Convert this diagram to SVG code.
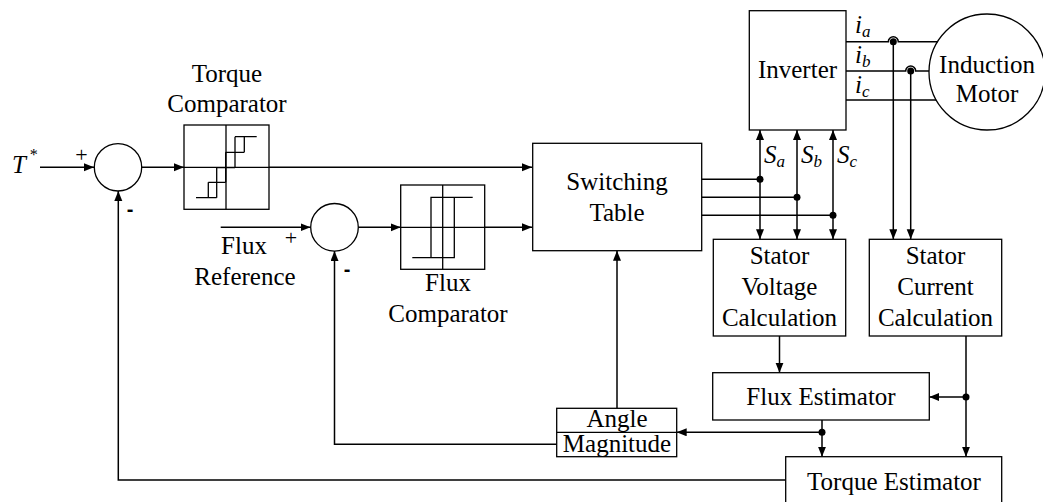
<svg xmlns="http://www.w3.org/2000/svg" width="1043" height="502" viewBox="0 0 1043 502">
<style>
.box{fill:#fff;stroke:#000;stroke-width:1.3}
.ln{fill:none;stroke:#000;stroke-width:1.5}
.thin{fill:none;stroke:#000;stroke-width:1.3}
.t{font-family:"Liberation Serif","Times New Roman",serif;font-size:25px;fill:#000;text-anchor:middle}
.it{font-family:"Liberation Serif","Times New Roman",serif;font-style:italic;font-size:25px;fill:#000}
.sub{font-size:17px}
.sg{font-family:"Liberation Serif","Times New Roman",serif;font-size:22px;fill:#000;text-anchor:middle}
.mn{font-family:"Liberation Sans",Arial,sans-serif;font-weight:bold;font-size:20px;fill:#000;text-anchor:middle}
.dot{fill:#000}
</style>
<defs>
<marker id="ar" markerUnits="userSpaceOnUse" markerWidth="11" markerHeight="9" refX="10" refY="4" orient="auto-start-reverse">
<path d="M0,0 L10,4 L0,8 z" fill="#000"/>
</marker>
</defs>
<rect width="1043" height="502" fill="#fff"/>

<g id="connectors">
<path class="ln" d="M40,167.3 H94" marker-end="url(#ar)"/>
<path class="ln" d="M141.7,167.3 H184" marker-end="url(#ar)"/>
<path class="ln" d="M269,167.3 H532" marker-end="url(#ar)"/>
<path class="ln" d="M220.7,227.3 H310.5" marker-end="url(#ar)"/>
<path class="ln" d="M358.3,227.3 H400.7" marker-end="url(#ar)"/>
<path class="ln" d="M484.7,227.3 H532" marker-end="url(#ar)"/>
<path class="ln" d="M701.7,179.3 H760"/>
<path class="ln" d="M701.7,197.3 H797"/>
<path class="ln" d="M701.7,215.3 H833"/>
<path class="ln" d="M760,130 V239.3" marker-start="url(#ar)" marker-end="url(#ar)"/>
<path class="ln" d="M797,130 V239.3" marker-start="url(#ar)" marker-end="url(#ar)"/>
<path class="ln" d="M833,130 V239.3" marker-start="url(#ar)" marker-end="url(#ar)"/>
<circle class="dot" cx="760" cy="179.3" r="3.5"/>
<circle class="dot" cx="797" cy="197.3" r="3.5"/>
<circle class="dot" cx="833" cy="215.3" r="3.5"/>
<path class="ln" d="M846,41.7 H888.3 A5,5 0 0,1 898.3,41.7 H937.5"/>
<path class="ln" d="M846,71 H905.7 A5,5 0 0,1 915.7,71 H929"/>
<path class="ln" d="M846,100 H936.2"/>
<path class="ln" d="M893.3,41.7 V239.3" marker-end="url(#ar)"/>
<path class="ln" d="M910.7,71 V239.3" marker-end="url(#ar)"/>
<circle class="dot" cx="893.3" cy="41.7" r="3.5"/>
<circle class="dot" cx="910.7" cy="71" r="3.5"/>
<path class="ln" d="M779.5,336 V372.7" marker-end="url(#ar)"/>
<path class="ln" d="M966,336 V456.7" marker-end="url(#ar)"/>
<path class="ln" d="M966,397 H929.3" marker-end="url(#ar)"/>
<circle class="dot" cx="966" cy="397" r="3.5"/>
<path class="ln" d="M822,420 V456.7" marker-end="url(#ar)"/>
<path class="ln" d="M822,432.3 H676.7" marker-end="url(#ar)"/>
<circle class="dot" cx="822" cy="432.3" r="3.5"/>
<path class="ln" d="M617,408.3 V250.7" marker-end="url(#ar)"/>
<path class="ln" d="M556.7,444.3 H334.5 V251" marker-end="url(#ar)"/>
<path class="ln" d="M785.7,480 H118.3 V191" marker-end="url(#ar)"/>
</g>

<g id="input-T">
<text class="it" x="12" y="173">T</text>
<text class="it" x="29" y="160" style="font-size:16px">*</text>
<text class="sg" x="81.5" y="162">+</text>
</g>

<g id="sum-torque">
<circle class="thin" cx="118" cy="167.3" r="23.7" fill="#fff"/>
<text class="mn" x="130" y="216">-</text>
</g>

<g id="torque-comparator">
<rect class="box" x="184" y="125" width="85" height="84.3"/>
<path class="thin" d="M226,125 V209.3 M184,167.3 H269"/>
<path class="thin" d="M196,197.7 H216.7 M208.3,182.3 V197.7 M216.7,167.7 V197.7 M208.3,182.3 H225.7 M225.7,152.3 V182.3 M216.7,167.7 H235 M235,136.7 V167.7 M225.7,152.3 H244.3 M244.3,136.7 V152.3 M235,136.7 H256.7"/>
<text class="t" x="227" y="82">Torque</text>
<text class="t" x="227" y="112">Comparator</text>
</g>

<g id="flux-reference">
<text class="t" x="244" y="254">Flux</text>
<text class="t" x="245" y="285">Reference</text>
<text class="sg" x="291" y="245">+</text>
</g>

<g id="sum-flux">
<circle class="thin" cx="334.5" cy="227.3" r="23.8" fill="#fff"/>
<text class="mn" x="347" y="276">-</text>
</g>

<g id="flux-comparator">
<rect class="box" x="400.7" y="185" width="84" height="84.3"/>
<path class="thin" d="M442.7,185 V269.3 M400.7,227.3 H484.7"/>
<path class="thin" d="M472.7,197.3 H431 V257.7 M412.3,257.7 H454.3 V197.3"/>
<text class="t" x="448" y="291">Flux</text>
<text class="t" x="448" y="322">Comparator</text>
</g>

<g id="switching-table">
<rect class="box" x="532.7" y="143.3" width="169" height="107.4"/>
<text class="t" x="617" y="190">Switching</text>
<text class="t" x="617" y="221">Table</text>
</g>

<g id="inverter">
<rect class="box" x="749.3" y="10.7" width="96.7" height="119.3"/>
<text class="t" x="797.5" y="78">Inverter</text>
</g>

<g id="current-labels">
<text class="it" x="855" y="33">i<tspan class="sub" dy="4">a</tspan></text>
<text class="it" x="855" y="63">i<tspan class="sub" dy="4">b</tspan></text>
<text class="it" x="855" y="93">i<tspan class="sub" dy="4">c</tspan></text>
</g>

<g id="switch-labels">
<text class="it" x="764" y="163">S<tspan class="sub" dy="4">a</tspan></text>
<text class="it" x="801" y="163">S<tspan class="sub" dy="4">b</tspan></text>
<text class="it" x="837" y="163">S<tspan class="sub" dy="4">c</tspan></text>
</g>

<g id="induction-motor">
<circle class="thin" cx="987" cy="72" r="58" fill="#fff"/>
<text class="t" x="987" y="73">Induction</text>
<text class="t" x="987" y="102">Motor</text>
</g>

<g id="stator-voltage">
<rect class="box" x="713.3" y="239.3" width="132.4" height="96.7"/>
<text class="t" x="779.5" y="264">Stator</text>
<text class="t" x="779.5" y="295">Voltage</text>
<text class="t" x="779.5" y="326">Calculation</text>
</g>

<g id="stator-current">
<rect class="box" x="869.3" y="239.3" width="132.4" height="96.7"/>
<text class="t" x="935.5" y="264">Stator</text>
<text class="t" x="935.5" y="295">Current</text>
<text class="t" x="935.5" y="326">Calculation</text>
</g>

<g id="flux-estimator">
<rect class="box" x="712.7" y="372.7" width="216.6" height="47.3"/>
<text class="t" x="821" y="405">Flux Estimator</text>
</g>

<g id="angle-magnitude">
<rect class="box" x="556.7" y="408.3" width="120" height="48.4"/>
<path class="thin" d="M556.7,432.3 H676.7"/>
<text class="t" x="617" y="427">Angle</text>
<text class="t" x="617" y="452">Magnitude</text>
</g>

<g id="torque-estimator">
<rect class="box" x="785.7" y="456.7" width="216" height="60"/>
<text class="t" x="894" y="490">Torque Estimator</text>
</g>
</svg>
